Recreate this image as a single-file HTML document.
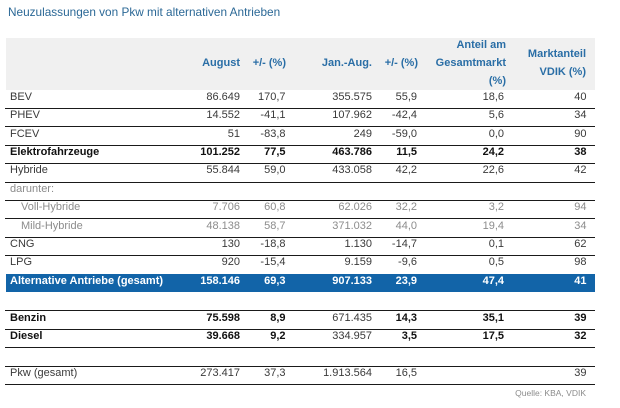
<!DOCTYPE html>
<html>
<head>
<meta charset="utf-8">
<style>
html,body{margin:0;padding:0;background:#fff;}
#c{position:relative;width:620px;height:408px;overflow:hidden;background:#fff;font-family:"Liberation Sans",sans-serif;font-size:11px;color:#3a3a3a;}
.t{position:absolute;left:8px;top:4px;font-size:11.8px;color:#2b6896;white-space:nowrap;line-height:16px;}
.hbg{position:absolute;left:6px;top:38px;width:589px;height:52px;background:#f0f0f0;}
.h{position:absolute;font-weight:bold;color:#2a6ea6;line-height:15px;white-space:nowrap;text-align:right;}
.ln{position:absolute;left:5px;width:590px;height:1px;background:#1a1a1a;}
.bar{position:absolute;left:6px;top:274px;width:589px;height:18px;background:#1264a8;}
.r{position:absolute;left:0;width:620px;height:15px;line-height:15px;white-space:nowrap;}
.r span{position:absolute;}
.l{left:10px;}
.in{left:21px !important;}
.c1{right:380px;}
.c2{right:334.5px;}
.c3{right:248px;}
.c4{right:203px;}
.c5{right:116px;}
.c6{right:33.5px;}
.b{font-weight:bold;color:#111;}
.g{color:#8c8c8c;}
.w{color:#fff;font-weight:bold;}
.q{position:absolute;right:34px;top:387px;font-size:8.5px;color:#8c8c8c;line-height:12px;}
</style>
</head>
<body>
<div id="c">
<div class="t">Neuzulassungen von Pkw mit alternativen Antrieben</div>
<div class="hbg"></div>
<div class="h" style="right:380px;top:55.5px;">August</div>
<div class="h" style="right:334px;top:55.5px;">+/- (%)</div>
<div class="h" style="right:248px;top:55.5px;">Jan.-Aug.</div>
<div class="h" style="right:202px;top:55.5px;">+/- (%)</div>
<div class="h" style="right:114px;top:37.5px;">Anteil am</div>
<div class="h" style="right:114px;top:55.5px;">Gesamtmarkt</div>
<div class="h" style="right:114px;top:73.5px;">(%)</div>
<div class="h" style="right:34px;top:46.5px;">Marktanteil</div>
<div class="h" style="right:34px;top:64.5px;">VDIK (%)</div>

<div class="ln" style="top:108px"></div>
<div class="ln" style="top:126.4px"></div>
<div class="ln" style="top:144.8px"></div>
<div class="ln" style="top:163.2px"></div>
<div class="ln" style="top:181.6px"></div>
<div class="ln" style="top:200px"></div>
<div class="ln" style="top:218.4px"></div>
<div class="ln" style="top:236.8px"></div>
<div class="ln" style="top:255.2px"></div>
<div class="bar"></div>
<div class="ln" style="top:310.4px"></div>
<div class="ln" style="top:328.8px"></div>
<div class="ln" style="top:347.2px"></div>
<div class="ln" style="top:365.6px"></div>
<div class="ln" style="top:384px"></div>

<div class="r" style="top:89.8px"><span class="l">BEV</span><span class="c1">86.649</span><span class="c2">170,7</span><span class="c3">355.575</span><span class="c4">55,9</span><span class="c5">18,6</span><span class="c6">40</span></div>
<div class="r" style="top:108.2px"><span class="l">PHEV</span><span class="c1">14.552</span><span class="c2">-41,1</span><span class="c3">107.962</span><span class="c4">-42,4</span><span class="c5">5,6</span><span class="c6">34</span></div>
<div class="r" style="top:126.6px"><span class="l">FCEV</span><span class="c1">51</span><span class="c2">-83,8</span><span class="c3">249</span><span class="c4">-59,0</span><span class="c5">0,0</span><span class="c6">90</span></div>
<div class="r b" style="top:145px"><span class="l">Elektrofahrzeuge</span><span class="c1">101.252</span><span class="c2">77,5</span><span class="c3">463.786</span><span class="c4">11,5</span><span class="c5">24,2</span><span class="c6">38</span></div>
<div class="r" style="top:163.4px"><span class="l">Hybride</span><span class="c1">55.844</span><span class="c2">59,0</span><span class="c3">433.058</span><span class="c4">42,2</span><span class="c5">22,6</span><span class="c6">42</span></div>
<div class="r g" style="top:181.8px"><span class="l">darunter:</span></div>
<div class="r g" style="top:200.2px"><span class="l in">Voll-Hybride</span><span class="c1">7.706</span><span class="c2">60,8</span><span class="c3">62.026</span><span class="c4">32,2</span><span class="c5">3,2</span><span class="c6">94</span></div>
<div class="r g" style="top:218.6px"><span class="l in">Mild-Hybride</span><span class="c1">48.138</span><span class="c2">58,7</span><span class="c3">371.032</span><span class="c4">44,0</span><span class="c5">19,4</span><span class="c6">34</span></div>
<div class="r" style="top:237px"><span class="l">CNG</span><span class="c1">130</span><span class="c2">-18,8</span><span class="c3">1.130</span><span class="c4">-14,7</span><span class="c5">0,1</span><span class="c6">62</span></div>
<div class="r" style="top:255.4px"><span class="l">LPG</span><span class="c1">920</span><span class="c2">-15,4</span><span class="c3">9.159</span><span class="c4">-9,6</span><span class="c5">0,5</span><span class="c6">98</span></div>
<div class="r w" style="top:273.8px"><span class="l">Alternative Antriebe (gesamt)</span><span class="c1">158.146</span><span class="c2">69,3</span><span class="c3">907.133</span><span class="c4">23,9</span><span class="c5">47,4</span><span class="c6">41</span></div>
<div class="r" style="top:310.6px"><span class="l b">Benzin</span><span class="c1 b">75.598</span><span class="c2 b">8,9</span><span class="c3">671.435</span><span class="c4 b">14,3</span><span class="c5 b">35,1</span><span class="c6 b">39</span></div>
<div class="r" style="top:329px"><span class="l b">Diesel</span><span class="c1 b">39.668</span><span class="c2 b">9,2</span><span class="c3">334.957</span><span class="c4 b">3,5</span><span class="c5 b">17,5</span><span class="c6 b">32</span></div>
<div class="r" style="top:365.8px"><span class="l">Pkw (gesamt)</span><span class="c1">273.417</span><span class="c2">37,3</span><span class="c3">1.913.564</span><span class="c4">16,5</span><span class="c6">39</span></div>
<div class="q">Quelle: KBA, VDIK</div>
</div>
</body>
</html>
